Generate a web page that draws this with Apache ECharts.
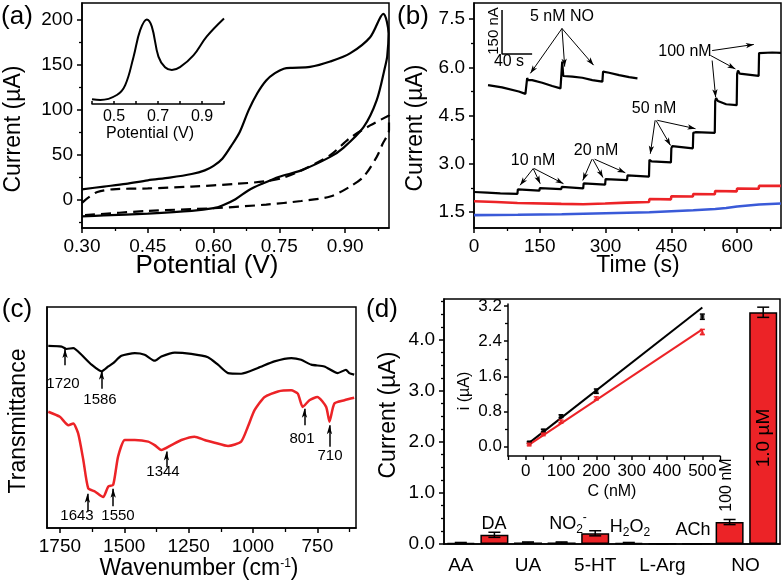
<!DOCTYPE html>
<html><head><meta charset="utf-8">
<script src="https://cdn.jsdelivr.net/npm/echarts@6/dist/echarts.min.js"></script>
<style>html,body{margin:0;padding:0;background:#fff}#c{width:784px;height:588px}</style>
</head><body><div id="c"></div>
<script>
// ---------------- DATA ----------------
// (a) CV loops: [potential V, current uA]
const cvSolid = [[0.30,12],[0.35,15],[0.40,18],[0.45,22],[0.50,25],[0.55,29],[0.58,33],[0.60,38],[0.62,46],[0.64,60],[0.66,76],[0.68,100],[0.70,119],[0.72,133],[0.74,141],[0.76,146],[0.78,147],[0.82,148],[0.866,154],[0.911,163],[0.957,181],[0.987,207],[0.999,185],[0.996,160],[0.991,148],[0.972,111],[0.942,81],[0.896,58],[0.866,48],[0.80,33],[0.75,26],[0.71,18],[0.68,11],[0.65,1],[0.62,-6],[0.60,-9],[0.55,-12],[0.45,-15],[0.35,-17],[0.30,-18]];
const cvDashed = [[0.30,-3],[0.315,3],[0.335,9],[0.37,12],[0.45,13],[0.55,15],[0.65,18],[0.72,21],[0.76,25],[0.80,33],[0.866,50],[0.911,69],[0.957,83],[1.0,94],[1.0,78],[0.985,62],[0.972,48],[0.942,26],[0.911,15],[0.866,4],[0.80,-1],[0.72,-5],[0.60,-9],[0.45,-12],[0.30,-17]];
const dpvInset = [[0.40,5.2],[0.438,4.4],[0.513,10],[0.551,21],[0.589,52.6],[0.619,82],[0.649,94],[0.672,86],[0.702,52.6],[0.732,40.8],[0.763,37.8],[0.80,41],[0.861,54],[0.921,74.8],[1.0,95]];
const aXTicks = [0.30,0.45,0.60,0.75,0.90];
const aXMinor = [0.375,0.525,0.675,0.825,0.975];
const aYTicks = [0,50,100,150,200];
const aYMinor = [-25,25,75,125,175];
const aInsetTicks = [0.4,0.5,0.6,0.7,0.8,0.9,1.0];
const aInsetLabels = [0.5,0.7,0.9];

// (b) amperometric traces: [time s, current uA]
const bBlack = [[0,2.12],[30,2.10],[60,2.08],[99,2.06],[100,2.20],[102,2.21],[149,2.16],[150,2.24],[152,2.25],[199,2.21],[200,2.28],[202,2.29],[249,2.23],[250,2.39],[252,2.41],[299,2.35],[300,2.52],[302,2.54],[349,2.49],[350,2.64],[352,2.66],[399,2.60],[400,3.12],[402,3.15],[405,3.07],[449,3.04],[450,3.48],[452,3.55],[455,3.50],[499,3.48],[500,3.96],[502,4.02],[505,3.98],[549,3.96],[550,4.95],[552,5.04],[556,4.95],[575,4.85],[599,4.82],[600,5.80],[602,5.90],[606,5.80],[649,5.73],[650,6.44],[653,6.50],[680,6.46],[700,6.45]];
const bRed = [[0,1.83],[50,1.81],[99,1.78],[100,1.79],[199,1.75],[200,1.76],[249,1.74],[250,1.77],[299,1.76],[300,1.80],[349,1.79],[350,1.82],[399,1.81],[400,1.90],[449,1.89],[450,1.99],[499,1.98],[500,2.06],[549,2.05],[550,2.15],[599,2.14],[600,2.23],[649,2.22],[650,2.31],[700,2.31]];
const bBlue = [[0,1.40],[100,1.41],[200,1.43],[300,1.46],[400,1.49],[450,1.52],[500,1.55],[550,1.59],[575,1.62],[600,1.67],[650,1.73],[700,1.76]];
// inset (5 nM NO): [time s, current nA]
const bInset = [[2.7,44],[21.3,36],[43.6,22],[52.4,14],[54.7,68],[56,61],[61.3,61],[74.7,52],[88,41],[99,33],[101.3,124],[102.7,75],[114.7,73],[128,69],[141.3,61],[154.7,56],[155.6,90],[163.6,86],[177,78],[190.3,71],[201.3,67]];
const bScaleBar = [[21.3,300],[21.3,150],[61.3,150]]; // 150 nA / 40 s
const bXTicks = [0,150,300,450,600];
const bXMinor = [75,225,375,525,675];
const bYTicks = [1.5,3.0,4.5,6.0,7.5];
const bYMinor = [2.25,3.75,5.25,6.75];
const bArrows = [
  [[135,2.85],[105,2.33]],[[135,2.85],[151,2.38]],[[137,2.85],[204,2.38]],
  [[269,3.14],[248,2.48]],[[271,3.14],[294,2.57]],[[275,3.14],[345,2.72]],
  [[413,4.35],[402,3.31]],[[415,4.35],[448,3.57]],[[418,4.35],[505,4.09]],
  [[543,6.52],[638,6.71]],[[539,6.37],[596,5.95]],[[543,6.21],[551,5.07]]
];
const bInsetArrows = [[[101,237],[59,84]],[[101,237],[104.6,107]],[[101,237],[143,112]]];

// (c) FTIR: [wavenumber, transmittance a.u.]
const ftirBlack = [[1795,82.4],[1743,82.1],[1724,81],[1698,81.4],[1666,78.4],[1627,73.9],[1588,70.9],[1562,73.1],[1543,74.6],[1511,77.9],[1459,79.1],[1421,78.4],[1382,75.7],[1356,77.6],[1304,79.4],[1240,78.8],[1175,77.3],[1136,73.9],[1097,70.1],[1046,69.8],[981,72.4],[917,75.4],[851,76.9],[813,76.1],[774,73.9],[723,73.1],[671,70.1],[639,71.6],[626,70.1],[607,69.4]];
const ftirRed = [[1795,52.6],[1750,50.3],[1717,46.5],[1698,47.3],[1679,42.8],[1659,30.8],[1640,18],[1614,16.5],[1582,14],[1562,18.8],[1543,19.5],[1524,32.3],[1498,39.8],[1459,39.8],[1407,39.1],[1382,37.5],[1356,35.3],[1317,37.5],[1278,39.8],[1227,41.3],[1188,39.8],[1149,38.6],[1097,37.1],[1046,39.1],[1020,45.8],[994,53.3],[955,59.3],[903,61.8],[852,62.3],[826,60.8],[807,54.8],[781,57.8],[750,59.3],[716,54.8],[703,48.1],[684,56.3],[645,57.8],[607,58.9]];
const cXTicks = [750,1000,1250,1500,1750];
const cXMinor = [625,875,1125,1375,1625];
const cArrows = [[[1730,73.6],[1730,81]],[[1588,63],[1588,71.2]],[[1643,7.5],[1643,15.5]],[[1543,9.8],[1543,17.8]],[[1336,27.5],[1336,34.6]],[[800,46.5],[800,54]],[[703,36.8],[703,46.5]]];

// (d) selectivity bars
const species = ['AA','DA','UA','NO2-','5-HT','H2O2','L-Arg','ACh','NO 100 nM','NO 1.0 µM'];
const response = [0.02,0.18,0.03,0.03,0.21,0.02,0.005,0.005,0.43,4.54];
const responseErr = [0.01,0.05,0.01,0.01,0.05,0.01,0,0,0.05,0.10];
const dYTicks = [0,1,2,3,4];
const dYMinor = [0.25,0.5,0.75,1.25,1.5,1.75,2.25,2.5,2.75,3.25,3.5,3.75,4.25,4.5,4.75];
// (d) inset calibration
const calibC = [10,50,100,200,500];
const calibBlack = [0.09,0.36,0.69,1.26,2.96];
const calibRed = [0.05,0.28,0.57,1.10,2.61];
const calibErrBlack = [0.02,0.03,0.03,0.05,0.06];
const calibErrRed = [0.02,0.02,0.03,0.03,0.06];
const fitBlack = [[10,0.08],[500,3.17]];
const fitRed = [[10,0.04],[500,2.67]];
const diXTicks = [0,100,200,300,400,500];
const diXMinor = [-50,50,150,250,350,450,550];
const diYTicks = [0,0.8,1.6,2.4,3.2];
const diYMinor = [0.4,1.2,2.0,2.8];

// ---------------- CHART ----------------
const FONT = '"Liberation Sans", Arial, Helvetica, sans-serif';
const RED = '#ec2327', BLUE = '#3a5ad8';
const chart = echarts.init(document.getElementById('c'), null, {renderer:'canvas'});

const grids = [
  {left:82, top:3, width:307, height:225, show:true, borderColor:'#000', borderWidth:1.5},   //0 a
  {left:92, top:14, width:132, height:90},                                                  //1 a inset
  {left:474, top:3, width:307, height:225, show:true, borderColor:'#000', borderWidth:1.5},  //2 b
  {left:486, top:10, width:158, height:88},                                                 //3 b inset
  {left:47, top:307, width:309, height:221, show:true, borderColor:'#000', borderWidth:1.5}, //4 c
  {left:444, top:299, width:336, height:245, show:true, borderColor:'#000', borderWidth:1.5},//5 d
  {left:508, top:304, width:212, height:152}                                                //6 d inset
];

const xAxes = [], yAxes = [];
function addAxes(list, dim, gridIndex, min, max, majors, minors, cfg) {
  cfg = cfg || {};
  const pos = dim === 'x' ? 'bottom' : 'left';
  const base = {type:'value', gridIndex, min, max, inverse: !!cfg.inverse, position: pos, splitLine:{show:false}};
  const main = Object.assign({}, base, {
    axisLine:{show: cfg.line !== false, onZero:false, lineStyle:{color:'#000', width: 1.5}},
    axisTick:{show: cfg.ticks !== false, customValues: majors, length: cfg.tl || 5, inside: !!cfg.inside, lineStyle:{color:'#000', width:1.5}},
    axisLabel:{show: cfg.labels !== false, customValues: cfg.labelValues || majors, formatter: cfg.fmt, color:'#000', fontSize: cfg.fs || 19, fontFamily: FONT, margin: cfg.margin || 8}
  });
  const idx = list.length;
  list.push(main);
  if (minors) list.push(Object.assign({}, base, {
    axisLine:{show:false, onZero:false},
    axisTick:{show:true, customValues: minors, length: cfg.mtl || 3, inside: !!cfg.inside, lineStyle:{color:'#000', width:1.3}},
    axisLabel:{show:false}
  }));
  return idx;
}
function hidden(list, gridIndex, min, max) { list.push({type:'value', gridIndex, min, max, show:false, splitLine:{show:false}}); return list.length - 1; }

// (a)
const ax = addAxes(xAxes, 'x', 0, 0.3, 1.0, aXTicks, aXMinor, {fmt: v => v.toFixed(2), margin:9});
const ay = addAxes(yAxes, 'y', 0, -31, 219, aYTicks, aYMinor, {fmt: v => String(v), margin:9});
const aix = addAxes(xAxes, 'x', 1, 0.4, 1.0, aInsetTicks, null, {labelValues: aInsetLabels, fmt: v => v.toFixed(1), fs:16, tl:3, inside:true, margin:5});
const aiy = hidden(yAxes, 1, 0, 100);
// (b)
const bx = addAxes(xAxes, 'x', 2, 0, 700, bXTicks, bXMinor, {fmt: v => String(v), margin:9});
const by = addAxes(yAxes, 'y', 2, 1.0, 8.0, bYTicks, bYMinor, {fmt: v => v.toFixed(1), margin:9});
const bix = hidden(xAxes, 3, 0, 210);
const biy = hidden(yAxes, 3, 0, 300);
// (c)
const cx = addAxes(xAxes, 'x', 4, 600, 1800, cXTicks, cXMinor, {inverse:true, fmt: v => String(v), mtl:4, margin:9});
const cy = addAxes(yAxes, 'y', 4, 0, 100, [], null, {labels:false, ticks:false});
// (d)
const dx = xAxes.length;
xAxes.push({type:'category', gridIndex:5, data: species, position:'bottom',
  axisLine:{onZero:false, lineStyle:{color:'#000', width:1.5}}, axisTick:{show:false},
  axisLabel:{interval:0, color:'#000', fontSize:19, fontFamily:FONT, margin:12,
    formatter: (v, i) => ({0:'AA',2:'UA',4:'5-HT',6:'L-Arg',8:'{no|NO}'})[i] || '',
    rich:{no:{fontSize:19, fontFamily:FONT, color:'#000', padding:[0,0,0,32]}}}});
const dy = addAxes(yAxes, 'y', 5, 0, 4.8, dYTicks, dYMinor, {fmt: v => v.toFixed(1), margin:9});
const dix = addAxes(xAxes, 'x', 6, -50, 550, diXTicks, diXMinor, {fmt: v => String(v), fs:17, tl:4, mtl:4, margin:7});
const diy = addAxes(yAxes, 'y', 6, -0.22, 3.25, diYTicks, diYMinor, {fmt: v => v.toFixed(1), fs:17, tl:4, margin:6});

function arrowLines(arrows, w) {
  return {silent:true, symbol:['none','arrow'], symbolSize:[4, w || 8], animation:false,
    lineStyle:{color:'#000', width:1, type:'solid'}, label:{show:false},
    emphasis:{disabled:true},
    data: arrows.map(a => [{coord:a[0]}, {coord:a[1]}])};
}
function lineS(data, xi, yi, color, width, extra) {
  return Object.assign({type:'line', data, xAxisIndex:xi, yAxisIndex:yi, showSymbol:false, symbol:'none',
    lineStyle:{color, width}, itemStyle:{color}, silent:true, z:3}, extra || {});
}
function errBars(data, xi, yi, color, cap) {
  return {type:'custom', xAxisIndex:xi, yAxisIndex:yi, data, silent:true, z:6,
    renderItem: (params, api) => {
      const x = api.value(0), lo = api.value(1), hi = api.value(2);
      const p1 = api.coord([x, lo]), p2 = api.coord([x, hi]);
      const st = {stroke: color, lineWidth: 1.5};
      return {type:'group', children:[
        {type:'line', shape:{x1:p1[0], y1:p1[1], x2:p2[0], y2:p2[1]}, style:st},
        {type:'line', shape:{x1:p1[0]-cap, y1:p1[1], x2:p1[0]+cap, y2:p1[1]}, style:st},
        {type:'line', shape:{x1:p2[0]-cap, y1:p2[1], x2:p2[0]+cap, y2:p2[1]}, style:st}
      ]};
    }};
}

const series = [
  lineS(cvSolid, ax, ay, '#000', 2.2, {smooth:0.3}),
  lineS(cvDashed, ax, ay, '#000', 2.2, {smooth:0.3, lineStyle:{color:'#000', width:2.2, type:[10,6]}}),
  lineS(dpvInset, aix, aiy, '#000', 2, {smooth:0.4}),
  lineS(bRed, bx, by, RED, 2.6),
  lineS(bBlue, bx, by, BLUE, 2.6),
  lineS(bBlack, bx, by, '#000', 2.2, {markLine: arrowLines(bArrows)}),
  lineS(bInset, bix, biy, '#000', 2.2, {markLine: arrowLines(bInsetArrows)}),
  lineS(bScaleBar, bix, biy, '#000', 1.5),
  lineS(ftirBlack, cx, cy, '#000', 2.2, {smooth:0.2}),
  lineS(ftirRed, cx, cy, RED, 2.5, {smooth:0.2, markLine: Object.assign(arrowLines(cArrows, 9), {lineStyle:{color:'#000', width:1.5, type:'solid'}})}),
  {type:'bar', xAxisIndex:dx, yAxisIndex:dy, data: response, barWidth:28, silent:true, z:2,
    itemStyle:{color:RED, borderColor:'#000', borderWidth:1.5}},
  errBars(response.map((v,i) => [i, v - responseErr[i], v + responseErr[i]]), dx, dy, '#000', 6),
  lineS(fitBlack, dix, diy, '#000', 2),
  lineS(fitRed, dix, diy, RED, 2),
  {type:'scatter', xAxisIndex:dix, yAxisIndex:diy, data: calibC.map((c,i)=>[c, calibBlack[i]]), symbol:'rect', symbolSize:4, itemStyle:{color:'#000'}, silent:true, z:5},
  {type:'scatter', xAxisIndex:dix, yAxisIndex:diy, data: calibC.map((c,i)=>[c, calibRed[i]]), symbol:'triangle', symbolSize:5, itemStyle:{color:RED}, silent:true, z:5},
  errBars(calibC.map((c,i)=>[c, calibBlack[i]-calibErrBlack[i], calibBlack[i]+calibErrBlack[i]]), dix, diy, '#000', 2.5),
  errBars(calibC.map((c,i)=>[c, calibRed[i]-calibErrRed[i], calibRed[i]+calibErrRed[i]]), dix, diy, RED, 2.5)
];

function T(text, x, y, size, extra) {
  return Object.assign({type:'text', x, y, silent:true, z:100,
    style:Object.assign({text, fill:'#000', fontSize:size, fontFamily:FONT, align:'center', verticalAlign:'middle'}, (extra && extra.style) || {})},
    extra ? {rotation: extra.rotation || 0} : {});
}
const V = Math.PI / 2;
const graphic = [
  T('(a)', 17, 17, 26), T('(b)', 413, 17, 26), T('(c)', 17, 310, 26), T('(d)', 382, 310, 26),
  T('Current (µA)', 14, 129, 23, {rotation:V}), T('Potential (V)', 207, 266, 26),
  T('Potential (V)', 150, 134, 16),
  T('Current (µA)', 416, 128, 23, {rotation:V}), T('Time (s)', 638, 266, 23),
  T('5 nM NO', 562, 17, 16), T('150 nA', 494, 31, 15, {rotation:V}), T('40 s', 509, 62, 16),
  T('10 nM', 533, 161, 16), T('20 nM', 596, 151, 16), T('50 nM', 654, 109, 16), T('100 nM', 685, 52, 16),
  T('Transmittance', 19, 421, 23, {rotation:V}),
  {type:'text', x:199, y:569, silent:true, z:100, style:{text:'{a|Wavenumber (cm}{b|-1}{a|)}', fill:'#000', align:'center', verticalAlign:'middle',
    rich:{a:{fontSize:23, fontFamily:FONT, fill:'#000'}, b:{fontSize:12, fontFamily:FONT, fill:'#000', verticalAlign:'top'}}}},
  T('1720', 63, 384, 15), T('1586', 100, 400, 15), T('1643', 77, 516, 15), T('1550', 118, 516, 15),
  T('1344', 163, 472, 15), T('801', 302, 439, 15), T('710', 330, 456, 15),
  T('Current (µA)', 389, 415, 23, {rotation:V}),
  T('DA', 494, 524, 18),
  {type:'text', x:568, y:524, silent:true, z:100, style:{text:'{a|NO}{s|2}{p|-}', fill:'#000', align:'center', verticalAlign:'middle',
    rich:{a:{fontSize:18, fontFamily:FONT, fill:'#000', lineHeight:24}, s:{fontSize:12, fontFamily:FONT, fill:'#000', verticalAlign:'bottom'}, p:{fontSize:12, fontFamily:FONT, fill:'#000', verticalAlign:'top'}}}},
  {type:'text', x:630, y:527, silent:true, z:100, style:{text:'{a|H}{s|2}{a|O}{s|2}', fill:'#000', align:'center', verticalAlign:'middle',
    rich:{a:{fontSize:18, fontFamily:FONT, fill:'#000', lineHeight:24}, s:{fontSize:12, fontFamily:FONT, fill:'#000', verticalAlign:'bottom'}}}},
  T('ACh', 693, 530, 18),
  T('100 nM', 727, 485, 16, {rotation:V}),
  T('1.0 µM', 764, 438, 19, {rotation:V}),
  T('i (µA)', 465, 391, 16, {rotation:V}),
  T('C (nM)', 612, 492, 16)
];

chart.setOption({
  animation:false,
  backgroundColor:'#fff',
  textStyle:{fontFamily:FONT},
  grid: grids, xAxis: xAxes, yAxis: yAxes, series, graphic
});
</script>
</body></html>
